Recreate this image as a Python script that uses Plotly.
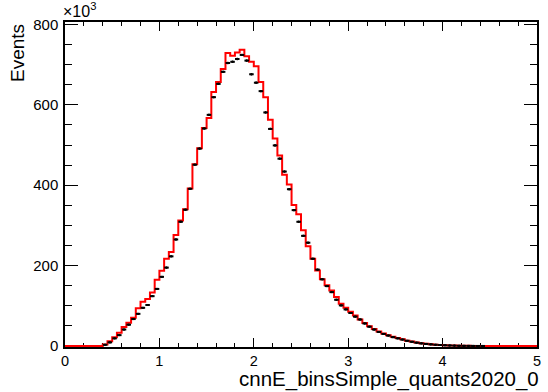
import numpy as np
import plotly.graph_objects as go

# Binning: 100 bins of width 0.05 from 0 to 5
bin_edges = np.linspace(0.0, 5.0, 101)
bin_centers = 0.5 * (bin_edges[:-1] + bin_edges[1:])

# Simulation histogram (events, in units of 10^3)
mc_counts = [
    0, 0, 0, 0, 0, 0, 0, 0, 4, 12,
    22, 33, 47, 58, 70, 94, 110, 117, 133, 165,
    187, 217, 234, 276, 312, 340, 392, 452, 492, 542,
    567, 632, 657, 689, 729, 722, 730, 737, 721, 707,
    696, 657, 619, 563, 516, 474, 426, 402, 351, 328,
    288, 248, 217, 188, 166, 151, 138, 122, 105, 95,
    85, 76, 66, 57, 49, 42, 36, 31, 27, 23,
    20, 17, 13, 11, 8.5, 7, 5.5, 4.3, 3.3, 2.5,
    1.9, 1.4, 1.0, 0.7, 0.5, 0.35, 0.25, 0.15, 0.1, 0.05,
    0.05, 0, 0, 0, 0, 0, 0, 0, 0, 0,
]

# Data histogram (events, in units of 10^3)
data_counts = [
    0, 0, 0, 0, 0, 0, 0, 0, 3, 9,
    19, 27, 41, 53, 67, 80, 95, 102, 124, 142,
    172, 195, 223, 265, 309, 339, 391, 451, 491, 541,
    575, 619, 652, 682, 704, 707, 714, 724, 710, 676,
    655, 634, 581, 540, 499, 466, 434, 390, 338, 309,
    274, 257, 217, 190, 166, 149, 134, 115, 101, 91,
    82, 73, 66, 56, 48, 41, 35, 30, 26, 22,
    19, 16, 13, 10.5, 8.2, 6.5, 5.1, 4.0, 3.1, 2.4,
    1.8, 1.3, 0.9, 0.6, 0.4, 0.3, 0.2, 0.12, 0.08, 0,
    0, 0, 0, 0, 0, 0, 0, 0, 0, 0,
]

x_title = "cnnE_binsSimple_quants2020_0"
y_title = "Events"

mc = np.array(mc_counts, dtype=float)
data = np.array(data_counts, dtype=float)

fig = go.Figure()

# Step histogram for the simulation
fig.add_trace(go.Scatter(
    x=bin_edges,
    y=np.append(mc, mc[-1]),
    mode="lines",
    line=dict(shape="hv", color="#ff0000", width=2),
    hoverinfo="skip",
    showlegend=False,
))

# Data points with horizontal bin-width bars
mask = data > 0
fig.add_trace(go.Scatter(
    x=bin_centers[mask],
    y=data[mask],
    mode="markers",
    marker=dict(color="black", size=2, symbol="square"),
    error_x=dict(type="constant", value=0.024, width=0, thickness=2, color="black"),
    error_y=dict(type="data", array=np.sqrt(data[mask] * 1000.0) / 1000.0 + 2.0,
                 width=0, thickness=1.2, color="black"),
    showlegend=False,
))

font_family = "Liberation Sans, Arial, Helvetica, sans-serif"

fig.update_layout(
    width=548,
    height=392,
    margin=dict(l=65, r=7, t=22, b=45),
    paper_bgcolor="white",
    plot_bgcolor="white",
    font=dict(family=font_family, size=15, color="black"),
    showlegend=False,
)

fig.update_xaxes(
    range=[0, 5],
    showgrid=False,
    zeroline=False,
    showline=True,
    linecolor="black",
    linewidth=1.5,
    mirror="ticks",
    ticks="inside",
    ticklen=9,
    tickwidth=1,
    tickcolor="black",
    tickmode="linear",
    tick0=0,
    dtick=1,
    minor=dict(ticks="inside", ticklen=4.5, dtick=0.2, tick0=0, tickcolor="black", tickwidth=1),
    tickfont=dict(size=14.5),
    ticklabelstandoff=0,
    layer="below traces",
)

fig.update_yaxes(
    range=[-2.5, 806],
    showgrid=False,
    zeroline=False,
    showline=True,
    linecolor="black",
    linewidth=1.5,
    mirror="ticks",
    ticks="inside",
    ticklen=13,
    tickwidth=1,
    tickcolor="black",
    tickmode="linear",
    tick0=0,
    dtick=200,
    minor=dict(ticks="inside", ticklen=7, dtick=50, tick0=0, tickcolor="black", tickwidth=1),
    tickfont=dict(size=15),
    ticklabelstandoff=2,
    layer="below traces",
)

# Axis titles aligned to the far end of each axis, plus the exponent label
fig.add_annotation(
    text=x_title, xref="paper", yref="paper", x=1, y=0,
    xanchor="right", yanchor="middle", xshift=3, yshift=-32, showarrow=False,
    borderpad=0,
    font=dict(size=20.5, family=font_family),
)
fig.add_annotation(
    text=y_title, xref="paper", yref="paper", x=0, y=1,
    xanchor="center", yanchor="top", xshift=-48, yshift=-1,
    textangle=-90, showarrow=False, borderpad=0,
    font=dict(size=19, family=font_family),
)
fig.add_annotation(
    text="×10<sup>3</sup>", xref="paper", yref="paper", x=0, y=1,
    xanchor="left", yanchor="bottom", xshift=-4, yshift=0, showarrow=False,
    font=dict(size=16, family=font_family),
)

fig.write_html("out.html")
